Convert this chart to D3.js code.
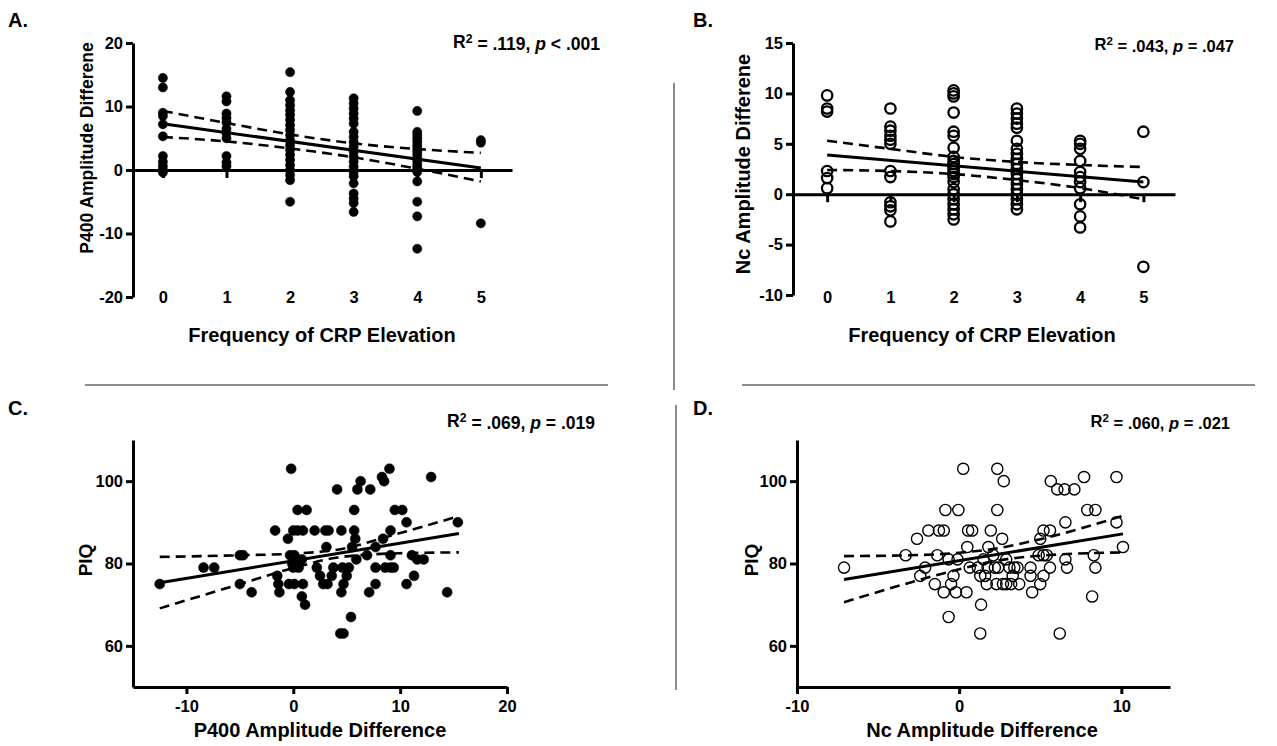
<!DOCTYPE html>
<html>
<head>
<meta charset="utf-8">
<script src="https://cdn.jsdelivr.net/npm/d3@7"></script>
<style>
  body { margin: 0; background: #fff; }
  text { font-family: "Liberation Sans", Arial, sans-serif; font-weight: bold; fill: #000; }
</style>
</head>
<body>
<svg id="fig" width="1277" height="746"></svg>
<script>
'use strict';

// ---- data ----
const freqCats = [0, 1, 2, 3, 4, 5];

// A: P400 amplitude difference by frequency of CRP elevation
const p400ByFreq = [
  [14.5, 13.0, 9.0, 8.5, 7.2, 5.3, 2.2, 1.3, 0.6, 0, -0.4],
  [11.6, 10.8, 8.9, 8.2, 7.5, 6.5, 5.8, 5.0, 2.2, 1.2, 0.6],
  [15.4, 12.3, 11.0, 10.2, 9.4, 8.7, 7.9, 7.1, 6.3, 5.5, 4.7, 3.9, 3.2, 2.4, 1.6, 0.8, 0, -0.8, -1.6, -5.0],
  [11.3, 10.5, 9.7, 8.9, 8.1, 7.3, 6.0, 5.2, 4.4, 3.7, 2.9, 2.1, 1.3, 0.5, -0.3, -1.0, -2.1, -3.7, -4.5, -5.2, -6.6],
  [9.3, 6.0, 5.5, 5.0, 4.5, 3.9, 3.4, 2.9, 2.4, 1.8, 1.3, 0.8, 0.3, -0.3, -1.8, -5.0, -7.3, -12.4],
  [4.7, 4.3, -8.4]
];
const fitAx = [0, 5];
const fitAy = [7.3, 0.3];
const bandAUpper = [9.3, 7.4, 5.6, 4.2, 3.3, 2.7];
const bandALower = [5.2, 4.5, 3.4, 2.0, 0.2, -1.8];

// B: Nc amplitude difference by frequency of CRP elevation
const ncByFreq = [
  [9.8, 8.5, 8.2, 2.3, 1.6, 0.6],
  [8.5, 6.7, 6.3, 5.8, 5.4, 5.0, 2.3, 1.7, -0.8, -1.2, -1.6, -2.7],
  [10.3, 10.0, 9.7, 8.1, 6.2, 5.8, 4.6, 3.7, 3.3, 3.0, 2.6, 2.3, 2.0, 1.7, 1.2, 0.5, 0, -0.5, -1.0, -1.5, -2.0, -2.5],
  [8.5, 8.0, 7.5, 7.0, 6.6, 5.3, 4.5, 4.0, 3.5, 3.0, 2.5, 2.0, 1.5, 1.0, 0.5, 0, -0.5, -1.0, -1.5],
  [5.3, 5.0, 4.5, 3.3, 2.2, 1.7, 1.2, 0.6, -1.0, -2.2, -3.3],
  [6.2, 1.2, -7.2]
];
const fitBx = [0, 5];
const fitBy = [3.9, 1.2];
const bandBUpper = [5.3, 4.5, 3.7, 3.2, 2.9, 2.7];
const bandBLower = [2.4, 2.3, 2.0, 1.4, 0.6, -0.5];

// C: PIQ vs P400 amplitude difference  [x, PIQ]
const piqVsP400 = [
  [-12.5, 75], [-8.4, 79], [-7.4, 79], [-5, 82], [-4.7, 82], [-5, 75], [-3.9, 73], [-1.7, 88],
  [-1.5, 77], [-1.4, 75], [-1.3, 73], [-0.5, 86], [-0.2, 103], [0.4, 93], [1.25, 93], [0, 88],
  [0.4, 88], [0.9, 88], [-0.3, 82], [0.1, 82], [0.3, 81], [-0.1, 80], [0.5, 80], [0.8, 81],
  [0, 79], [0.5, 79], [-0.4, 75], [0.1, 75], [0.9, 75], [0.8, 72], [1.1, 70], [2, 88],
  [3, 88], [3.3, 88], [3.1, 84], [2.2, 79], [2.5, 77], [2.8, 75], [3.6, 77], [3.75, 79],
  [4.1, 98], [4.5, 88], [4.5, 73], [4.7, 75], [5, 77], [5.2, 79], [4.4, 63], [4.7, 63],
  [5.4, 67], [5.7, 93], [5.7, 88], [5.8, 86], [5.9, 81], [6, 98], [6.3, 100], [6.9, 82],
  [7.2, 98], [7.1, 73], [7.7, 84], [7.7, 79], [7.7, 75], [8.3, 101], [8.5, 100], [9, 103],
  [8.4, 86], [9.1, 88], [8.6, 79], [9.1, 79], [9.4, 79], [9.1, 82], [9.5, 93], [10.2, 93],
  [10.6, 90], [10.6, 75], [11.3, 77], [11.1, 82], [11.6, 81], [12.2, 81], [12.9, 101], [14.4, 73],
  [15.4, 90], [5.5, 84], [3.2, 75], [4.6, 79]
];
const fitCx = [-12.5, 15.5];
const fitCy = [75.3, 87.3];
const bandCx = [-12.5, -5, 0, 4, 10, 15.5];
const bandCUpper = [81.6, 82.0, 82.4, 83.3, 87.4, 91.5];
const bandCLower = [69.1, 75.0, 78.9, 81.4, 82.5, 82.7];

// D: PIQ vs Nc amplitude difference  [x, PIQ]
const piqVsNc = [
  [-7.1, 79], [-3.3, 82], [-2.6, 86], [-2.4, 77], [-2.1, 79], [-1.9, 88], [-1.5, 75], [-1.35, 82],
  [-1.25, 88], [-0.95, 88], [-0.85, 93], [-0.95, 73], [-0.65, 81], [-0.65, 67], [-0.5, 75], [-0.35, 77],
  [-0.2, 73], [-0.05, 93], [-0.1, 81], [0.25, 103], [0.45, 73], [0.5, 84], [0.55, 88], [0.8, 88],
  [0.65, 79], [1.15, 79], [1.3, 77], [1.35, 70], [1.3, 63], [1.6, 77], [1.7, 75], [1.8, 84],
  [1.95, 88], [2.1, 82], [2.2, 79], [2.4, 79], [2.3, 75], [2.35, 93], [2.35, 103], [2.75, 100],
  [2.65, 86], [2.7, 75], [2.9, 75], [3.2, 75], [2.9, 81], [3.1, 79], [3.4, 79], [3.6, 79],
  [3.3, 77], [3.7, 75], [4.4, 79], [4.4, 77], [4.5, 73], [5.0, 86], [5.0, 75], [5.2, 88],
  [4.9, 82], [5.2, 82], [5.4, 82], [5.2, 77], [5.6, 88], [5.6, 79], [5.65, 100], [6.05, 98],
  [6.5, 98], [6.2, 63], [6.55, 90], [6.55, 81], [6.65, 79], [7.1, 98], [7.7, 101], [7.9, 93],
  [8.4, 93], [8.2, 72], [8.3, 82], [8.4, 79], [9.7, 101], [9.7, 90], [10.1, 84], [1.75, 79],
  [1.5, 81]
];
const fitDx = [-7.1, 10.1];
const fitDy = [76.1, 87.2];
const bandDx = [-7.1, -3, 0, 2.5, 5, 10.1];
const bandDUpper = [81.8, 82.0, 82.6, 83.8, 85.9, 91.6];
const bandDLower = [70.6, 75.4, 78.6, 80.8, 81.9, 82.7];

// ---- drawing ----
const svg = d3.select('#fig');
const TICK_FONT = '16.5px';
const plainNum = d => String(d);   // hyphen-minus like the original, not U+2212

function styleAxis(g) {
  g.select('.domain').attr('stroke', '#000').attr('stroke-width', 3);
  g.selectAll('.tick line').attr('stroke', '#000').attr('stroke-width', 3);
  g.selectAll('.tick text').style('font-size', TICK_FONT)
    .style('font-family', '"Liberation Sans", Arial, sans-serif').style('font-weight', 'bold');
}

function drawFit(g, x, y, fx, fy, bx, upper, lower) {
  g.append('line')
    .attr('x1', x(fx[0])).attr('y1', y(fy[0]))
    .attr('x2', x(fx[1])).attr('y2', y(fy[1]))
    .attr('stroke', '#000').attr('stroke-width', 3);
  const band = d3.line().x(d => x(d[0])).y(d => y(d[1])).curve(d3.curveMonotoneX);
  [upper, lower].forEach(vals => {
    g.append('path')
      .attr('d', band(d3.zip(bx, vals)))
      .attr('fill', 'none').attr('stroke', '#000')
      .attr('stroke-width', 2.6).attr('stroke-dasharray', '10,6');
  });
}

function statText(xr, yb, size, r2, op, pv) {
  const t = svg.append('text').attr('x', xr).attr('y', yb)
    .attr('text-anchor', 'end').style('font-size', size);
  t.append('tspan').text('R');
  t.append('tspan').text('2').attr('dy', '-0.4em').style('font-size', '0.7em');
  t.append('tspan').text(' = ' + r2 + ', ').attr('dy', '0.4em');
  t.append('tspan').text('p').style('font-style', 'italic');
  t.append('tspan').text(' ' + op + ' ' + pv);
}

function label(x, y, txt, size, rotate) {
  const t = svg.append('text').text(txt).style('font-size', size).attr('text-anchor', 'middle');
  if (rotate) t.attr('transform', `translate(${x},${y}) rotate(-90)`);
  else t.attr('x', x).attr('y', y);
  return t;
}

// column-scatter panel (A, B)
function columnPanel(opt) {
  const x = d3.scaleLinear().domain(opt.xDomain).range(opt.xRange);
  const y = d3.scaleLinear().domain(opt.yDomain).range(opt.yRange);
  const g = svg.append('g');

  const pts = opt.cols.flatMap((vals, i) => vals.map(v => ({ c: freqCats[i], v })));
  g.selectAll('circle').data(pts).enter().append('circle')
    .attr('cx', d => x(d.c)).attr('cy', d => y(d.v))
    .attr('r', opt.hollow ? 5.2 : 4.6)
    .attr('fill', opt.hollow ? 'none' : '#000')
    .attr('stroke', '#000').attr('stroke-width', opt.hollow ? 2.3 : 0.5);

  drawFit(g, x, y, opt.fitX, opt.fitY, freqCats, opt.upper, opt.lower);

  // zero line with category ticks
  g.append('g').attr('transform', `translate(0,${y(0)})`)
    .call(d3.axisBottom(x).tickValues(freqCats).tickSize(8).tickSizeOuter(0).tickFormat(''))
    .call(styleAxis);
  // category labels along the bottom
  g.append('g').attr('transform', `translate(0,${opt.labelY})`)
    .call(d3.axisBottom(x).tickValues(freqCats).tickSize(0).tickPadding(0).tickFormat(plainNum))
    .call(styleAxis)
    .call(a => a.select('.domain').remove());
  // y axis
  g.append('g').attr('transform', `translate(${opt.xRange[0]},0)`)
    .call(d3.axisLeft(y).tickValues(opt.yTicks).tickSize(7).tickSizeOuter(0).tickPadding(3).tickFormat(plainNum))
    .call(styleAxis);
}

// xy scatter panel (C, D)
function xyPanel(opt) {
  const x = d3.scaleLinear().domain(opt.xDomain).range(opt.xRange);
  const y = d3.scaleLinear().domain([50, 110]).range([687, 440]);
  const g = svg.append('g');

  g.selectAll('circle').data(opt.data).enter().append('circle')
    .attr('cx', d => x(d[0])).attr('cy', d => y(d[1]))
    .attr('r', opt.hollow ? 5.6 : 5)
    .attr('fill', opt.hollow ? 'none' : '#000')
    .attr('stroke', '#000').attr('stroke-width', opt.hollow ? 1.4 : 0.5);

  drawFit(g, x, y, opt.fitX, opt.fitY, opt.bandX, opt.upper, opt.lower);

  g.append('g').attr('transform', `translate(0,${y(50)})`)
    .call(d3.axisBottom(x).tickValues(opt.xTicks).tickSize(7).tickSizeOuter(0).tickPadding(6).tickFormat(plainNum))
    .call(styleAxis);
  g.append('g').attr('transform', `translate(${opt.xRange[0]},0)`)
    .call(d3.axisLeft(y).tickValues([60, 80, 100]).tickSize(7).tickSizeOuter(0).tickPadding(3).tickFormat(plainNum))
    .call(styleAxis);
}

columnPanel({
  cols: p400ByFreq, hollow: false,
  xDomain: [-0.47, 5.49], xRange: [133, 512],
  yDomain: [-20, 20], yRange: [297, 43], yTicks: [-20, -10, 0, 10, 20],
  labelY: 291,
  fitX: fitAx, fitY: fitAy, upper: bandAUpper, lower: bandALower
});
columnPanel({
  cols: ncByFreq, hollow: true,
  xDomain: [-0.54, 5.5], xRange: [793, 1175],
  yDomain: [-10, 15], yRange: [295, 43], yTicks: [-10, -5, 0, 5, 10, 15],
  labelY: 291,
  fitX: fitBx, fitY: fitBy, upper: bandBUpper, lower: bandBLower
});
xyPanel({
  data: piqVsP400, hollow: false,
  xDomain: [-15, 20], xRange: [133, 507], xTicks: [-10, 0, 10, 20],
  fitX: fitCx, fitY: fitCy, bandX: bandCx, upper: bandCUpper, lower: bandCLower
});
xyPanel({
  data: piqVsNc, hollow: true,
  xDomain: [-10, 13], xRange: [797, 1170], xTicks: [-10, 0, 10],
  fitX: fitDx, fitY: fitDy, bandX: bandDx, upper: bandDUpper, lower: bandDLower
});

// axis titles
label(93, 148, 'P400 Amplitude Differene', '17.5px', true);
label(322, 342, 'Frequency of CRP Elevation', '20px');
label(750, 164, 'Nc Amplitude Differene', '20px', true);
label(982, 342, 'Frequency of CRP Elevation', '20px');
label(92, 560, 'PIQ', '19px', true);
label(320, 737, 'P400 Amplitude Difference', '20px');
label(758, 560, 'PIQ', '19px', true);
label(982, 737, 'Nc Amplitude Difference', '20px');

// panel letters
[['A.', 8, 27], ['B.', 693, 27], ['C.', 8, 415], ['D.', 693, 415]].forEach(([t, x, y]) => {
  svg.append('text').attr('x', x).attr('y', y).text(t).style('font-size', '20px');
});

// statistics
statText(600, 48, '17.5px', '.119', '<', '.001');
statText(1234, 50, '16.5px', '.043', '=', '.047');
statText(595, 427, '17.5px', '.069', '=', '.019');
statText(1230, 427, '16.5px', '.060', '=', '.021');

// grey separators
const sep = [[674, 83, 674, 390], [85, 385, 608, 385], [742, 385, 1255, 385], [676, 405, 676, 690]];
svg.selectAll('line.sep').data(sep).enter().append('line').attr('class', 'sep')
  .attr('x1', d => d[0]).attr('y1', d => d[1]).attr('x2', d => d[2]).attr('y2', d => d[3])
  .attr('stroke', '#8c8c8c').attr('stroke-width', 2);
</script>
</body>
</html>
